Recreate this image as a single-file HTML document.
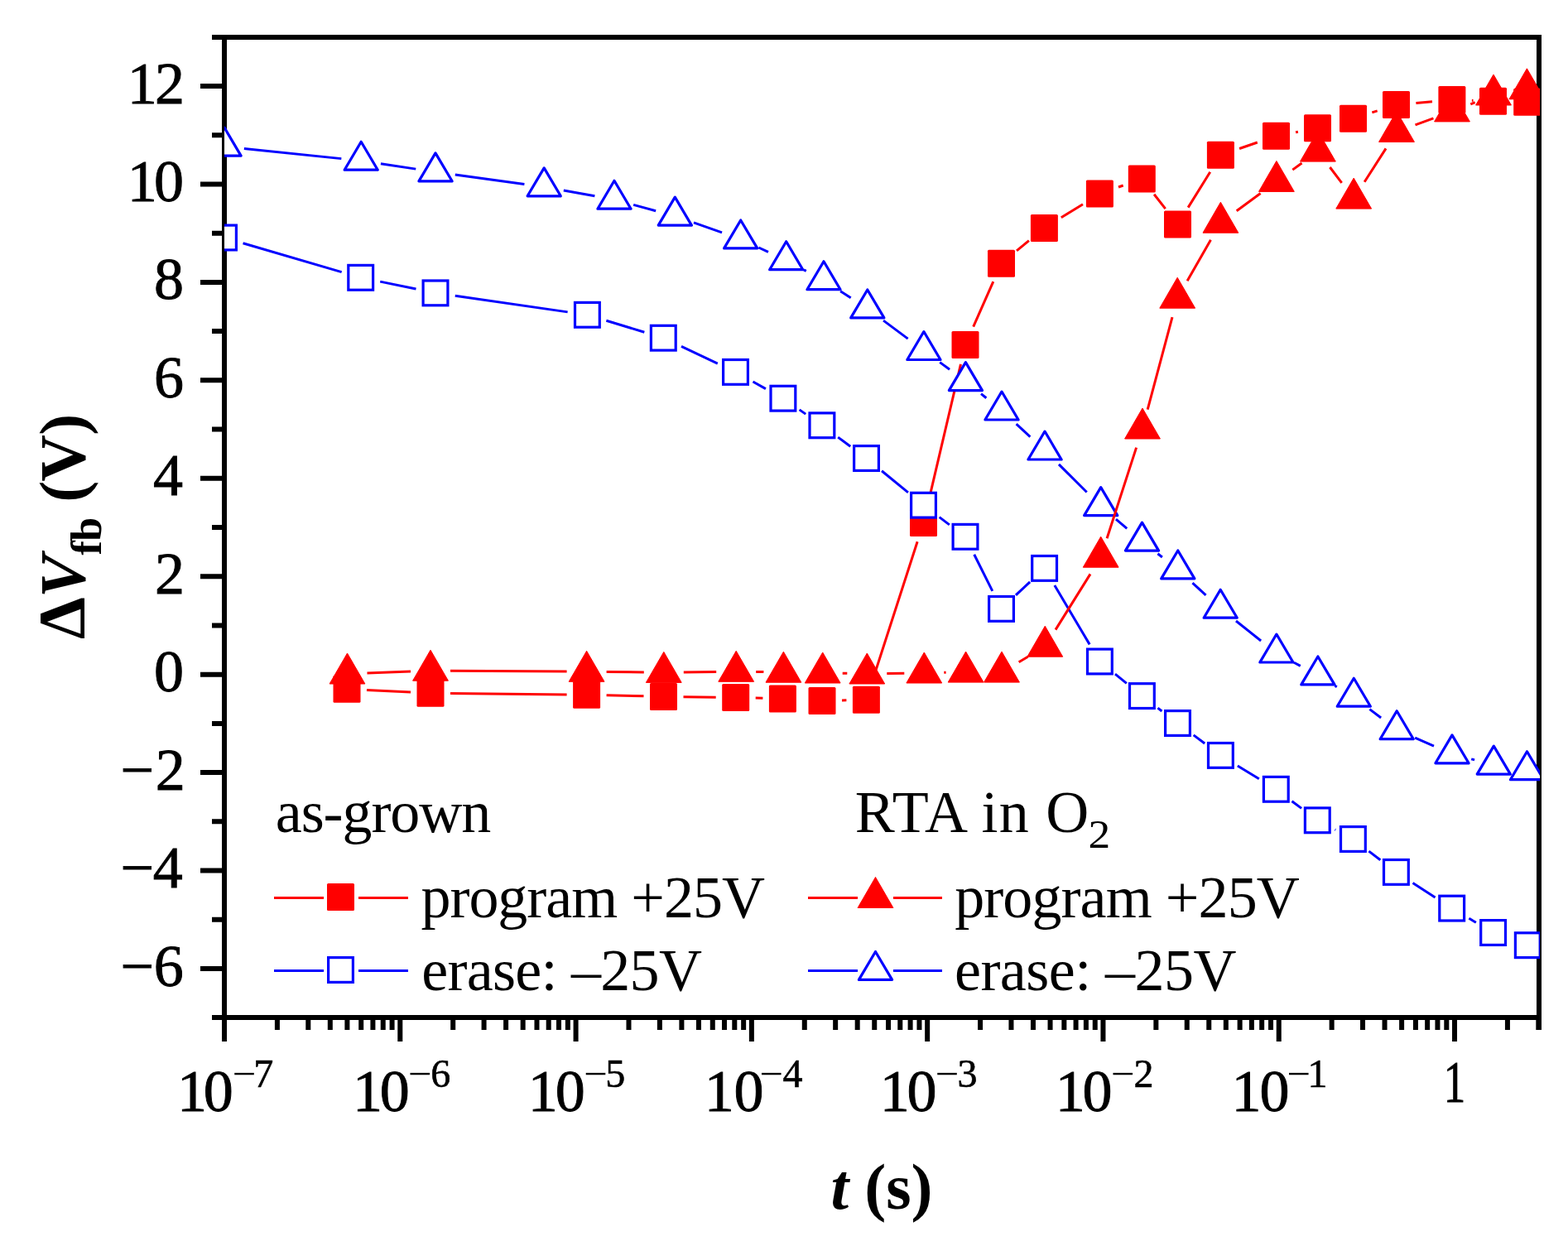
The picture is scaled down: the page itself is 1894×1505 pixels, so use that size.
<!DOCTYPE html><html><head><meta charset="utf-8"><style>html,body{margin:0;padding:0;background:#fff;}svg{display:block;}text{font-family:"Liberation Serif","Times New Roman",serif;}</style></head><body>
<svg width="1894" height="1505" viewBox="0 0 1894 1505">
<rect width="1894" height="1505" fill="#fff"/>
<path d="M256 45H1862M256 1229H1862M271 42V1258M1859 42V1244M242 1170H271M242 1051.56H271M242 933.11H271M242 814.67H271M242 696.23H271M242 577.78H271M242 459.34H271M242 340.89H271M242 222.45H271M242 104.01H271M256 1110.78H271M256 992.34H271M256 873.89H271M256 755.45H271M256 637H271M256 518.56H271M256 400.12H271M256 281.67H271M256 163.23H271M334.91 1229V1244M372.29 1229V1244M398.81 1229V1244M419.38 1229V1244M436.19 1229V1244M450.41 1229V1244M462.72 1229V1244M473.58 1229V1244M483.29 1229V1258M547.2 1229V1244M584.58 1229V1244M611.1 1229V1244M631.67 1229V1244M648.48 1229V1244M662.7 1229V1244M675.01 1229V1244M685.87 1229V1244M695.58 1229V1258M759.49 1229V1244M796.87 1229V1244M823.39 1229V1244M843.96 1229V1244M860.77 1229V1244M874.99 1229V1244M887.3 1229V1244M898.16 1229V1244M907.87 1229V1258M971.78 1229V1244M1009.16 1229V1244M1035.68 1229V1244M1056.25 1229V1244M1073.06 1229V1244M1087.28 1229V1244M1099.59 1229V1244M1110.45 1229V1244M1120.16 1229V1258M1184.07 1229V1244M1221.45 1229V1244M1247.97 1229V1244M1268.54 1229V1244M1285.35 1229V1244M1299.57 1229V1244M1311.88 1229V1244M1322.74 1229V1244M1332.45 1229V1258M1396.36 1229V1244M1433.74 1229V1244M1460.26 1229V1244M1480.83 1229V1244M1497.64 1229V1244M1511.86 1229V1244M1524.17 1229V1244M1535.03 1229V1244M1544.74 1229V1258M1608.65 1229V1244M1646.03 1229V1244M1672.55 1229V1244M1693.12 1229V1244M1709.93 1229V1244M1724.15 1229V1244M1736.46 1229V1244M1747.32 1229V1244M1757.03 1229V1258M1820.94 1229V1244M1858.32 1229V1244M1820.94 1229V1244" fill="none" stroke="#000" stroke-width="6"/>
<defs><clipPath id="pc"><rect x="271" y="45" width="1589" height="1184"/></clipPath></defs>
<g clip-path="url(#pc)">
<path d="M442.97 833.41L496.03 836.09M544 837.55L684.6 839.05M732.59 839.84L777.51 840.86M825.5 841.7L864.7 842.2M912.69 843.09L921.41 843.31M1016.99 845.91L1022.41 845.79M1053.78 822.46L1108.12 654.24M1120.99 608.04L1160.51 439.86M1175.71 394.55L1199.79 340.15M1228.02 302.93L1242.88 290.67M1281.83 262.81L1307.97 246.69M1351 226.02L1356.7 223.98M1394.11 234.79L1407.69 252.11M1435.15 250.6L1461.75 207.7M1497.09 179.49L1518.81 172.01M1565.08 159.72L1567.92 159.18M1657.34 135.92L1663.66 133.88M1710.41 124.41L1729.99 122.69M1777.89 121.37L1779.51 121.43" fill="none" stroke="#ff0000" stroke-width="3.0"/>
<rect x="402.5" y="815.7" width="33" height="33" rx="1.5" fill="#ff0000"/><rect x="503.5" y="820.8" width="33" height="33" rx="1.5" fill="#ff0000"/><rect x="692.1" y="822.8" width="33" height="33" rx="1.5" fill="#ff0000"/><rect x="785" y="824.9" width="33" height="33" rx="1.5" fill="#ff0000"/><rect x="872.2" y="826" width="33" height="33" rx="1.5" fill="#ff0000"/><rect x="928.9" y="827.4" width="33" height="33" rx="1.5" fill="#ff0000"/><rect x="976.5" y="829.9" width="33" height="33" rx="1.5" fill="#ff0000"/><rect x="1029.9" y="828.8" width="33" height="33" rx="1.5" fill="#ff0000"/><rect x="1099" y="614.9" width="33" height="33" rx="1.5" fill="#ff0000"/><rect x="1149.5" y="400" width="33" height="33" rx="1.5" fill="#ff0000"/><rect x="1193" y="301.7" width="33" height="33" rx="1.5" fill="#ff0000"/><rect x="1244.9" y="258.9" width="33" height="33" rx="1.5" fill="#ff0000"/><rect x="1311.9" y="217.6" width="33" height="33" rx="1.5" fill="#ff0000"/><rect x="1362.8" y="199.4" width="33" height="33" rx="1.5" fill="#ff0000"/><rect x="1406" y="254.5" width="33" height="33" rx="1.5" fill="#ff0000"/><rect x="1457.9" y="170.8" width="33" height="33" rx="1.5" fill="#ff0000"/><rect x="1525" y="147.7" width="33" height="33" rx="1.5" fill="#ff0000"/><rect x="1575" y="138.2" width="33" height="33" rx="1.5" fill="#ff0000"/><rect x="1618" y="126.8" width="33" height="33" rx="1.5" fill="#ff0000"/><rect x="1670" y="110" width="33" height="33" rx="1.5" fill="#ff0000"/><rect x="1737.4" y="104.1" width="33" height="33" rx="1.5" fill="#ff0000"/><rect x="1787" y="105.7" width="33" height="33" rx="1.5" fill="#ff0000"/><rect x="1828.2" y="106.8" width="33" height="33" rx="1.5" fill="#ff0000"/>
<path d="M293.54 293.73L412.66 328.57M459.21 340.14L502.49 349.06M549.76 357.32L685.64 376.88M732.37 387.27L778.33 401.23M823 418.45L866.8 439.15M909.49 461.03L924.91 469.57M965.62 494.88L973.18 500.12M1012.19 528.08L1027.21 539.22M1065.04 568.74L1096.96 594.96M1134.66 624.65L1146.84 633.85M1176.72 669.77L1198.78 713.93M1226.98 718.96L1244.12 702.84M1273.85 707.04L1316.15 778.36M1347 814.17L1360.8 825.43M1398.48 855.16L1403.42 858.94M1441.7 887.89L1455.2 898.01M1494.88 924.92L1520.82 940.78M1560.5 967.7L1572.1 976.4M1612.53 1001.98L1613.17 1002.32M1653.44 1028.11L1667.36 1038.79M1706.53 1066.47L1733.57 1084.03M1774.38 1109.28L1782.92 1114.32" fill="none" stroke="#0000ff" stroke-width="3.0"/>
<rect x="255.6" y="272.1" width="29.8" height="29.8" fill="#fff" stroke="#0000ff" stroke-width="3.2"/><rect x="420.8" y="320.4" width="29.8" height="29.8" fill="#fff" stroke="#0000ff" stroke-width="3.2"/><rect x="511.1" y="339" width="29.8" height="29.8" fill="#fff" stroke="#0000ff" stroke-width="3.2"/><rect x="694.5" y="365.4" width="29.8" height="29.8" fill="#fff" stroke="#0000ff" stroke-width="3.2"/><rect x="786.4" y="393.3" width="29.8" height="29.8" fill="#fff" stroke="#0000ff" stroke-width="3.2"/><rect x="873.6" y="434.5" width="29.8" height="29.8" fill="#fff" stroke="#0000ff" stroke-width="3.2"/><rect x="931" y="466.3" width="29.8" height="29.8" fill="#fff" stroke="#0000ff" stroke-width="3.2"/><rect x="978" y="498.9" width="29.8" height="29.8" fill="#fff" stroke="#0000ff" stroke-width="3.2"/><rect x="1031.6" y="538.6" width="29.8" height="29.8" fill="#fff" stroke="#0000ff" stroke-width="3.2"/><rect x="1100.6" y="595.3" width="29.8" height="29.8" fill="#fff" stroke="#0000ff" stroke-width="3.2"/><rect x="1151.1" y="633.4" width="29.8" height="29.8" fill="#fff" stroke="#0000ff" stroke-width="3.2"/><rect x="1194.6" y="720.5" width="29.8" height="29.8" fill="#fff" stroke="#0000ff" stroke-width="3.2"/><rect x="1246.7" y="671.5" width="29.8" height="29.8" fill="#fff" stroke="#0000ff" stroke-width="3.2"/><rect x="1313.5" y="784.1" width="29.8" height="29.8" fill="#fff" stroke="#0000ff" stroke-width="3.2"/><rect x="1364.5" y="825.7" width="29.8" height="29.8" fill="#fff" stroke="#0000ff" stroke-width="3.2"/><rect x="1407.6" y="858.6" width="29.8" height="29.8" fill="#fff" stroke="#0000ff" stroke-width="3.2"/><rect x="1459.5" y="897.5" width="29.8" height="29.8" fill="#fff" stroke="#0000ff" stroke-width="3.2"/><rect x="1526.4" y="938.4" width="29.8" height="29.8" fill="#fff" stroke="#0000ff" stroke-width="3.2"/><rect x="1576.4" y="975.9" width="29.8" height="29.8" fill="#fff" stroke="#0000ff" stroke-width="3.2"/><rect x="1619.5" y="998.6" width="29.8" height="29.8" fill="#fff" stroke="#0000ff" stroke-width="3.2"/><rect x="1671.5" y="1038.5" width="29.8" height="29.8" fill="#fff" stroke="#0000ff" stroke-width="3.2"/><rect x="1738.8" y="1082.2" width="29.8" height="29.8" fill="#fff" stroke="#0000ff" stroke-width="3.2"/><rect x="1788.7" y="1111.6" width="29.8" height="29.8" fill="#fff" stroke="#0000ff" stroke-width="3.2"/><rect x="1830.4" y="1126.8" width="29.8" height="29.8" fill="#fff" stroke="#0000ff" stroke-width="3.2"/>
<path d="M294.87 179.47L412.33 191.63M459.93 197.69L502.27 204.11M549.78 210.96L633.42 222.44M680.81 229.99L718.39 236.81M765.16 247.39L792.14 254.71M837.95 268.93L872.05 280.87M916.43 298.99L927.97 304.41M970.91 325.84L973.79 327.36M1015.14 351.65L1027.66 359.75M1067.06 387.11L1096.64 409.09M1135.24 437.61L1147.06 446.29M1185.03 475.63L1191.37 480.77M1227.64 512.18L1244.36 527.62M1278.98 560.86L1312.72 594.54M1347.96 627.08L1361.24 638.42M1398.42 668.77L1403.88 673.03M1440.46 704.05L1456.54 718.85M1492.99 750.03L1523.11 773.97M1563.04 800.27L1570.76 804.43M1612.43 828.24L1614.77 829.66M1654.4 856.64L1668.1 867.06M1709.2 891.19L1732 901.11M1777.2 916.84L1781.1 917.86" fill="none" stroke="#0000ff" stroke-width="3.0"/>
<path d="M271 154.16L291.08 188.1L250.92 188.1Z" fill="#fff" stroke="#0000ff" stroke-width="3.2" stroke-linejoin="round"/><path d="M436.2 171.26L456.28 205.2L416.12 205.2Z" fill="#fff" stroke="#0000ff" stroke-width="3.2" stroke-linejoin="round"/><path d="M526 184.86L546.08 218.8L505.92 218.8Z" fill="#fff" stroke="#0000ff" stroke-width="3.2" stroke-linejoin="round"/><path d="M657.2 202.86L677.28 236.8L637.12 236.8Z" fill="#fff" stroke="#0000ff" stroke-width="3.2" stroke-linejoin="round"/><path d="M742 218.26L762.08 252.2L721.92 252.2Z" fill="#fff" stroke="#0000ff" stroke-width="3.2" stroke-linejoin="round"/><path d="M815.3 238.16L835.38 272.1L795.22 272.1Z" fill="#fff" stroke="#0000ff" stroke-width="3.2" stroke-linejoin="round"/><path d="M894.7 265.96L914.78 299.9L874.62 299.9Z" fill="#fff" stroke="#0000ff" stroke-width="3.2" stroke-linejoin="round"/><path d="M949.7 291.76L969.78 325.7L929.62 325.7Z" fill="#fff" stroke="#0000ff" stroke-width="3.2" stroke-linejoin="round"/><path d="M995 315.76L1015.08 349.7L974.92 349.7Z" fill="#fff" stroke="#0000ff" stroke-width="3.2" stroke-linejoin="round"/><path d="M1047.8 349.96L1067.88 383.9L1027.72 383.9Z" fill="#fff" stroke="#0000ff" stroke-width="3.2" stroke-linejoin="round"/><path d="M1115.9 400.56L1135.98 434.5L1095.82 434.5Z" fill="#fff" stroke="#0000ff" stroke-width="3.2" stroke-linejoin="round"/><path d="M1166.4 437.66L1186.48 471.6L1146.32 471.6Z" fill="#fff" stroke="#0000ff" stroke-width="3.2" stroke-linejoin="round"/><path d="M1210 473.06L1230.08 507L1189.92 507Z" fill="#fff" stroke="#0000ff" stroke-width="3.2" stroke-linejoin="round"/><path d="M1262 521.06L1282.08 555L1241.92 555Z" fill="#fff" stroke="#0000ff" stroke-width="3.2" stroke-linejoin="round"/><path d="M1329.7 588.66L1349.78 622.6L1309.62 622.6Z" fill="#fff" stroke="#0000ff" stroke-width="3.2" stroke-linejoin="round"/><path d="M1379.5 631.16L1399.58 665.1L1359.42 665.1Z" fill="#fff" stroke="#0000ff" stroke-width="3.2" stroke-linejoin="round"/><path d="M1422.8 664.96L1442.88 698.9L1402.72 698.9Z" fill="#fff" stroke="#0000ff" stroke-width="3.2" stroke-linejoin="round"/><path d="M1474.2 712.26L1494.28 746.2L1454.12 746.2Z" fill="#fff" stroke="#0000ff" stroke-width="3.2" stroke-linejoin="round"/><path d="M1541.9 766.06L1561.98 800L1521.82 800Z" fill="#fff" stroke="#0000ff" stroke-width="3.2" stroke-linejoin="round"/><path d="M1591.9 792.96L1611.98 826.9L1571.82 826.9Z" fill="#fff" stroke="#0000ff" stroke-width="3.2" stroke-linejoin="round"/><path d="M1635.3 819.26L1655.38 853.2L1615.22 853.2Z" fill="#fff" stroke="#0000ff" stroke-width="3.2" stroke-linejoin="round"/><path d="M1687.2 858.76L1707.28 892.7L1667.12 892.7Z" fill="#fff" stroke="#0000ff" stroke-width="3.2" stroke-linejoin="round"/><path d="M1754 887.86L1774.08 921.8L1733.92 921.8Z" fill="#fff" stroke="#0000ff" stroke-width="3.2" stroke-linejoin="round"/><path d="M1804.3 901.16L1824.38 935.1L1784.22 935.1Z" fill="#fff" stroke="#0000ff" stroke-width="3.2" stroke-linejoin="round"/><path d="M1844.5 907.76L1864.58 941.7L1824.42 941.7Z" fill="#fff" stroke="#0000ff" stroke-width="3.2" stroke-linejoin="round"/>
<path d="M443.48 812.89L496.02 810.91M544 810.14L684.6 810.96M732.6 811.38L777.8 811.92M825.8 811.9L865.2 811.4M913.2 811.48L922.4 811.62M1017.7 813.25L1023.3 813.35M1071.3 813.45L1092.3 813.15M1140.3 812.37L1142.6 812.33M1230.66 799.69L1241.64 793.21M1275.01 760.64L1316.99 693.36M1337.1 650.17L1372.6 540.63M1386.2 494.61L1416 383.19M1434.14 339.18L1462.46 289.82M1493.71 254.75L1522.59 233.45M1561.32 205.1L1572.48 197M1606.42 202.01L1620.68 220.79M1648.16 219.7L1674.04 179.4M1709.54 150.96L1731.46 142.94M1776.3 125.83L1781.7 123.67" fill="none" stroke="#ff0000" stroke-width="3.0"/>
<path d="M419.5 789L440.9 826L398.1 826Z" fill="#ff0000" stroke="#ff0000" stroke-width="1" stroke-linejoin="round"/><path d="M520 785.2L541.4 822.2L498.6 822.2Z" fill="#ff0000" stroke="#ff0000" stroke-width="1" stroke-linejoin="round"/><path d="M708.6 786.3L730 823.3L687.2 823.3Z" fill="#ff0000" stroke="#ff0000" stroke-width="1" stroke-linejoin="round"/><path d="M801.8 787.4L823.2 824.4L780.4 824.4Z" fill="#ff0000" stroke="#ff0000" stroke-width="1" stroke-linejoin="round"/><path d="M889.2 786.3L910.6 823.3L867.8 823.3Z" fill="#ff0000" stroke="#ff0000" stroke-width="1" stroke-linejoin="round"/><path d="M946.4 787.2L967.8 824.2L925 824.2Z" fill="#ff0000" stroke="#ff0000" stroke-width="1" stroke-linejoin="round"/><path d="M993.7 788L1015.1 825L972.3 825Z" fill="#ff0000" stroke="#ff0000" stroke-width="1" stroke-linejoin="round"/><path d="M1047.3 789L1068.7 826L1025.9 826Z" fill="#ff0000" stroke="#ff0000" stroke-width="1" stroke-linejoin="round"/><path d="M1116.3 788L1137.7 825L1094.9 825Z" fill="#ff0000" stroke="#ff0000" stroke-width="1" stroke-linejoin="round"/><path d="M1166.6 787.1L1188 824.1L1145.2 824.1Z" fill="#ff0000" stroke="#ff0000" stroke-width="1" stroke-linejoin="round"/><path d="M1210 787.1L1231.4 824.1L1188.6 824.1Z" fill="#ff0000" stroke="#ff0000" stroke-width="1" stroke-linejoin="round"/><path d="M1262.3 756.2L1283.7 793.2L1240.9 793.2Z" fill="#ff0000" stroke="#ff0000" stroke-width="1" stroke-linejoin="round"/><path d="M1329.7 648.2L1351.1 685.2L1308.3 685.2Z" fill="#ff0000" stroke="#ff0000" stroke-width="1" stroke-linejoin="round"/><path d="M1380 493L1401.4 530L1358.6 530Z" fill="#ff0000" stroke="#ff0000" stroke-width="1" stroke-linejoin="round"/><path d="M1422.2 335.2L1443.6 372.2L1400.8 372.2Z" fill="#ff0000" stroke="#ff0000" stroke-width="1" stroke-linejoin="round"/><path d="M1474.4 244.2L1495.8 281.2L1453 281.2Z" fill="#ff0000" stroke="#ff0000" stroke-width="1" stroke-linejoin="round"/><path d="M1541.9 194.4L1563.3 231.4L1520.5 231.4Z" fill="#ff0000" stroke="#ff0000" stroke-width="1" stroke-linejoin="round"/><path d="M1591.9 158.1L1613.3 195.1L1570.5 195.1Z" fill="#ff0000" stroke="#ff0000" stroke-width="1" stroke-linejoin="round"/><path d="M1635.2 215.1L1656.6 252.1L1613.8 252.1Z" fill="#ff0000" stroke="#ff0000" stroke-width="1" stroke-linejoin="round"/><path d="M1687 134.4L1708.4 171.4L1665.6 171.4Z" fill="#ff0000" stroke="#ff0000" stroke-width="1" stroke-linejoin="round"/><path d="M1754 109.9L1775.4 146.9L1732.6 146.9Z" fill="#ff0000" stroke="#ff0000" stroke-width="1" stroke-linejoin="round"/><path d="M1804 90L1825.4 127L1782.6 127Z" fill="#ff0000" stroke="#ff0000" stroke-width="1" stroke-linejoin="round"/><path d="M1844.4 82.8L1865.8 119.8L1823 119.8Z" fill="#ff0000" stroke="#ff0000" stroke-width="1" stroke-linejoin="round"/>
</g>
<text id="y-6" x="221.8" y="1190.5" font-size="72" text-anchor="end" stroke="#000" stroke-width="0.9" textLength="76.41" lengthAdjust="spacing">−6</text>
<text id="y-4" x="220.8" y="1072.06" font-size="72" text-anchor="end" stroke="#000" stroke-width="0.9" textLength="75.41" lengthAdjust="spacing">−4</text>
<text id="y-2" x="223.8" y="953.61" font-size="72" text-anchor="end" stroke="#000" stroke-width="0.9" textLength="78.41" lengthAdjust="spacing">−2</text>
<text id="y0" x="222" y="835.17" font-size="72" text-anchor="end" stroke="#000" stroke-width="0.9">0</text>
<text id="y2" x="223" y="716.73" font-size="72" text-anchor="end" stroke="#000" stroke-width="0.9">2</text>
<text id="y4" x="221" y="598.28" font-size="72" text-anchor="end" stroke="#000" stroke-width="0.9">4</text>
<text id="y6" x="222" y="479.84" font-size="72" text-anchor="end" stroke="#000" stroke-width="0.9">6</text>
<text id="y8" x="222" y="361.39" font-size="72" text-anchor="end" stroke="#000" stroke-width="0.9">8</text>
<text id="y10" x="222" y="242.95" font-size="72" text-anchor="end" stroke="#000" stroke-width="0.9" textLength="68.2" lengthAdjust="spacing">10</text>
<text id="y12" x="223" y="124.51" font-size="72" text-anchor="end" stroke="#000" stroke-width="0.9" textLength="69.2" lengthAdjust="spacing">12</text>
<text id="x10_7" x="214" y="1341.5" font-size="72" stroke="#000" stroke-width="0.9" textLength="67.8" lengthAdjust="spacing">10</text>
<text id="xm_7" x="280.42" y="1312.5" font-size="48" textLength="28.59" lengthAdjust="spacingAndGlyphs">−</text>
<text id="xd_7" x="306.2" y="1312.5" font-size="48" stroke="#000" stroke-width="0.6">7</text>
<text id="x10_6" x="425.93" y="1341.5" font-size="72" stroke="#000" stroke-width="0.9" textLength="68.8" lengthAdjust="spacing">10</text>
<text id="xm_6" x="492.71" y="1312.5" font-size="48" textLength="28.59" lengthAdjust="spacingAndGlyphs">−</text>
<text id="xd_6" x="520.26" y="1312.5" font-size="48" stroke="#000" stroke-width="0.6">6</text>
<text id="x10_5" x="637.86" y="1341.5" font-size="72" stroke="#000" stroke-width="0.9" textLength="68.8" lengthAdjust="spacing">10</text>
<text id="xm_5" x="705" y="1312.5" font-size="48" textLength="28.59" lengthAdjust="spacingAndGlyphs">−</text>
<text id="xd_5" x="731.32" y="1312.5" font-size="48" stroke="#000" stroke-width="0.6">5</text>
<text id="x10_4" x="850.79" y="1341.5" font-size="72" stroke="#000" stroke-width="0.9" textLength="71.8" lengthAdjust="spacing">10</text>
<text id="xm_4" x="917.29" y="1312.5" font-size="48" textLength="28.59" lengthAdjust="spacingAndGlyphs">−</text>
<text id="xd_4" x="945.38" y="1312.5" font-size="48" stroke="#000" stroke-width="0.6">4</text>
<text id="x10_3" x="1062.72" y="1341.5" font-size="72" stroke="#000" stroke-width="0.9" textLength="68.8" lengthAdjust="spacing">10</text>
<text id="xm_3" x="1129.58" y="1312.5" font-size="48" textLength="28.59" lengthAdjust="spacingAndGlyphs">−</text>
<text id="xd_3" x="1156.44" y="1312.5" font-size="48" stroke="#000" stroke-width="0.6">3</text>
<text id="x10_2" x="1274.65" y="1341.5" font-size="72" stroke="#000" stroke-width="0.9" textLength="68.8" lengthAdjust="spacing">10</text>
<text id="xm_2" x="1341.87" y="1312.5" font-size="48" textLength="28.59" lengthAdjust="spacingAndGlyphs">−</text>
<text id="xd_2" x="1369.5" y="1312.5" font-size="48" stroke="#000" stroke-width="0.6">2</text>
<text id="x10_1" x="1487.58" y="1341.5" font-size="72" stroke="#000" stroke-width="0.9" textLength="69.8" lengthAdjust="spacing">10</text>
<text id="xm_1" x="1554.16" y="1312.5" font-size="48" textLength="28.59" lengthAdjust="spacingAndGlyphs">−</text>
<text id="xd_1" x="1579.56" y="1312.5" font-size="48" stroke="#000" stroke-width="0.6">1</text>
<text id="x1" x="1743.73" y="1330.5" font-size="72" stroke="#000" stroke-width="0.9" textLength="26.51" lengthAdjust="spacingAndGlyphs">1</text>
<text id="asg" x="332.8" y="1005" font-size="72" textLength="260.34" lengthAdjust="spacing">as-grown</text>
<text id="rta" x="1032.8" y="1005" font-size="72" textLength="282.34" lengthAdjust="spacing">RTA in O</text>
<text id="rta2" x="1314.64" y="1024" font-size="48" textLength="26.69" lengthAdjust="spacingAndGlyphs">2</text>
<text id="prog1" x="508.4" y="1108" font-size="72" textLength="415.52" lengthAdjust="spacing">program +25V</text>
<text id="erase1" x="509.2" y="1196" font-size="72" textLength="338.68" lengthAdjust="spacing">erase: –25V</text>
<text id="prog2" x="1153.2" y="1108" font-size="72" textLength="416.52" lengthAdjust="spacing">program +25V</text>
<text id="erase2" x="1153" y="1196" font-size="72" textLength="340.47" lengthAdjust="spacing">erase: –25V</text>
<text id="ttlx" x="1003.4" y="1460" font-size="78" font-weight="bold" textLength="123.08" lengthAdjust="spacing"><tspan font-style="italic">t</tspan> (s)</text>
<text id="ttly" transform="translate(102 772) rotate(-90)" font-size="78" font-weight="bold" textLength="272.26" lengthAdjust="spacing"><tspan font-size="81">Δ</tspan><tspan font-style="italic">V</tspan><tspan font-size="52" dy="20">fb</tspan><tspan dy="-20"> (V)</tspan></text>
<path d="M331 1084.4H391M433 1084.4H493M976 1084.4H1036M1079 1084.4H1138" stroke="#ff0000" stroke-width="3"/>
<path d="M331 1172.5H391M433 1172.5H493M976 1172.5H1036M1079 1172.5H1138" stroke="#0000ff" stroke-width="3"/>
<rect x="395" y="1067" width="33" height="33" rx="1.5" fill="#ff0000"/>
<rect x="396.6" y="1156.6" width="29.8" height="29.8" fill="#fff" stroke="#0000ff" stroke-width="3.2"/>
<path d="M1057.5 1059.5L1078.9 1096.5L1036.1 1096.5Z" fill="#ff0000" stroke="#ff0000" stroke-width="1" stroke-linejoin="round"/>
<path d="M1057.5 1149.46L1077.58 1183.4L1037.42 1183.4Z" fill="#fff" stroke="#0000ff" stroke-width="3.2" stroke-linejoin="round"/>
</svg></body></html>
